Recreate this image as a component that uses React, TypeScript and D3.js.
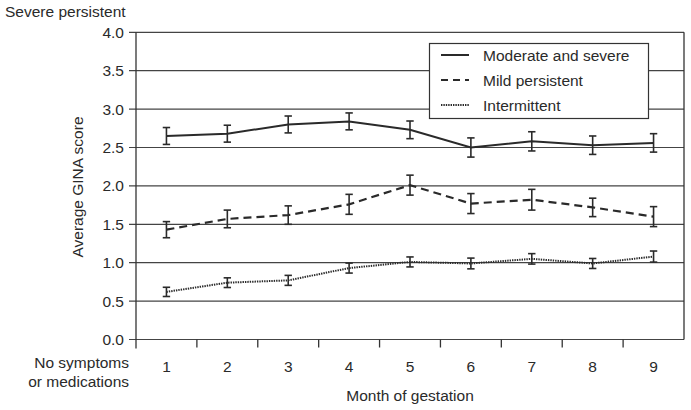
import React from "react";
import * as d3 from "d3";

const months = ["1", "2", "3", "4", "5", "6", "7", "8", "9"];
const yTicks = [0, 0.5, 1, 1.5, 2, 2.5, 3, 3.5, 4];

const moderateSevere = [2.65, 2.68, 2.8, 2.84, 2.73, 2.5, 2.58, 2.53, 2.56];
const moderateSevereErr = [0.11, 0.11, 0.11, 0.11, 0.115, 0.125, 0.125, 0.12, 0.12];
const mildPersistent = [1.43, 1.57, 1.62, 1.76, 2.01, 1.77, 1.82, 1.72, 1.6];
const mildPersistentErr = [0.105, 0.115, 0.12, 0.13, 0.13, 0.13, 0.135, 0.12, 0.13];
const intermittent = [0.62, 0.74, 0.77, 0.93, 1.01, 0.99, 1.05, 0.99, 1.08];
const intermittentErr = [0.06, 0.063, 0.065, 0.065, 0.065, 0.07, 0.068, 0.065, 0.072];

const seriesNames = ["Moderate and severe", "Mild persistent", "Intermittent"];

export default function App() {
  const W = 691, H = 410;
  const left = 136, right = 684, top = 32.3, bottom = 339.5;
  const x = d3.scaleBand<string>().domain(months).range([left, right]).padding(0);
  const y = d3.scaleLinear().domain([0, 4]).range([bottom, top]);
  const font = "Arial, 'Liberation Sans', sans-serif";
  const ink = "#2a2a2a";
  const cx = (m: string) => (x(m) as number) + x.bandwidth() / 2;

  const series = [
    { name: seriesNames[0], vals: moderateSevere, err: moderateSevereErr, dash: "none", sw: 2 },
    { name: seriesNames[1], vals: mildPersistent, err: mildPersistentErr, dash: "8,5", sw: 2.2 },
    { name: seriesNames[2], vals: intermittent, err: intermittentErr, dash: "1.4,1", sw: 2 },
  ];
  const line = d3.line<number>().x((_, i) => cx(months[i])).y((d) => y(d));
  const boundaries = [...months.map((m) => x(m) as number), right];

  return (
    <svg width={W} height={H} style={{ position: "absolute", left: 0, top: 0, background: "#fff" }}
      fontFamily={font}>
      {/* gridlines */}
      {yTicks.map((t) => (
        <g key={t}>
          <line x1={left - 7} x2={right} y1={y(t)} y2={y(t)} stroke="#444" strokeWidth={1.2} />
          <text x={124} y={y(t) + 5.5} textAnchor="end" fontSize={15.5} fill={ink}>{t.toFixed(1)}</text>
        </g>
      ))}
      {/* axes */}
      <line x1={left} x2={left} y1={top} y2={bottom + 9} stroke="#333" strokeWidth={1.3} />
      <line x1={right} x2={right} y1={top} y2={bottom} stroke="#333" strokeWidth={1.3} />
      {boundaries.slice(1, -1).map((b, i) => (
        <line key={i} x1={b} x2={b} y1={bottom} y2={bottom + 8} stroke="#333" strokeWidth={1.3} />
      ))}
      {months.map((m) => (
        <text key={m} x={cx(m)} y={372} textAnchor="middle" fontSize={15.5} fill={ink}>{m}</text>
      ))}
      <text x={129} y={368} textAnchor="end" fontSize={15.5} fill={ink}>No symptoms</text>
      <text x={129} y={387} textAnchor="end" fontSize={15.5} fill={ink}>or medications</text>
      <text x={410} y={401} textAnchor="middle" fontSize={15.5} fill={ink}>Month of gestation</text>
      <text x={5} y={17} fontSize={15.5} fill={ink}>Severe persistent</text>
      <text transform={`translate(83,187) rotate(-90)`} textAnchor="middle" fontSize={15.5} fill={ink}>
        Average GINA score
      </text>

      {/* series */}
      {series.map((s) => (
        <g key={s.name}>
          <path d={line(s.vals) || ""} fill="none" stroke={ink} strokeWidth={s.sw}
            strokeDasharray={s.dash} />
          {s.vals.map((v, i) => {
            const px = cx(months[i]);
            const y1 = y(v + s.err[i]), y2 = y(v - s.err[i]);
            return (
              <g key={i} stroke={ink} strokeWidth={1.6}>
                <line x1={px} x2={px} y1={y1} y2={y2} />
                <line x1={px - 3.7} x2={px + 3.7} y1={y1} y2={y1} />
                <line x1={px - 3.7} x2={px + 3.7} y1={y2} y2={y2} />
              </g>
            );
          })}
        </g>
      ))}

      {/* legend */}
      <rect x={429.5} y={43.5} width={219} height={75} fill="#fff" stroke="#333" strokeWidth={1.2} />
      {series.map((s, i) => (
        <g key={s.name}>
          <line x1={441} x2={469} y1={55 + i * 25} y2={55 + i * 25} stroke={ink}
            strokeWidth={s.sw} strokeDasharray={s.dash === "8,5" ? "7,5" : s.dash} />
          <text x={483} y={60.5 + i * 25} fontSize={15.5} fill={ink}>{s.name}</text>
        </g>
      ))}
    </svg>
  );
}
